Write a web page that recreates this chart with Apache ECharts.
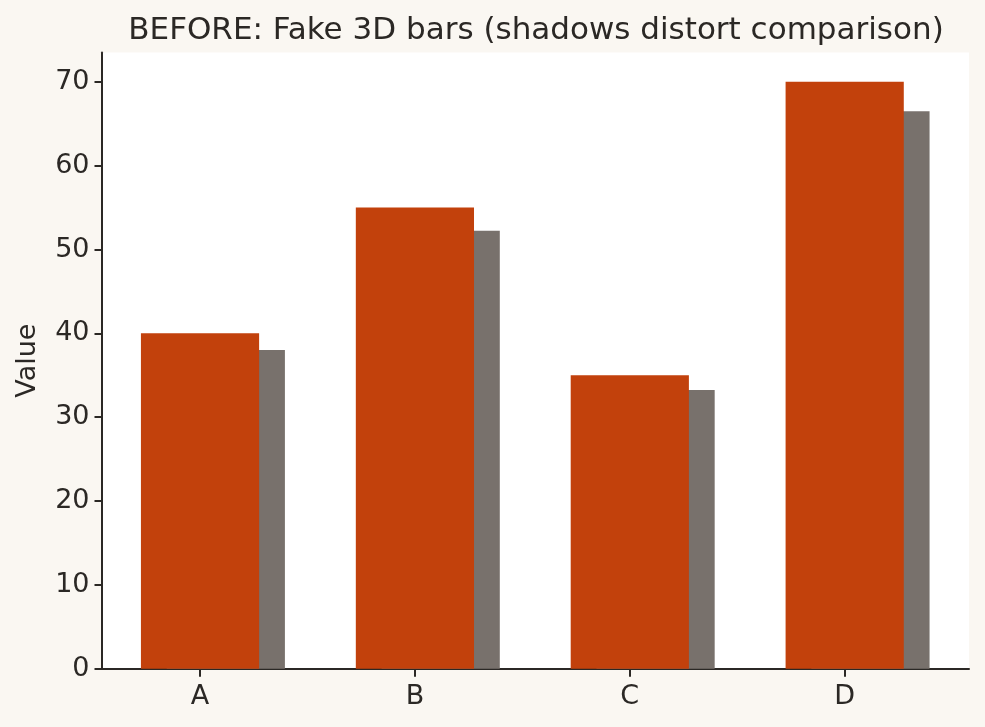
<!DOCTYPE html>
<html>
<head>
<meta charset="utf-8">
<script src="https://cdn.jsdelivr.net/npm/echarts@6/dist/echarts.min.js"></script>
<style>
html,body{margin:0;padding:0;background:#FAF7F2;}
#chart{width:985px;height:727px;}
</style>
</head>
<body>
<div id="chart"></div>
<script>
const categories = ['A', 'B', 'C', 'D'];
const values = [40, 55, 35, 70];
const shadowValues = [38, 52.25, 33.25, 66.5];
const yTicks = [0, 10, 20, 30, 40, 50, 60, 70];

const BAR_HALF = 0.275;
const SHADOW_OFF = 0.12;
const TEXT = '#2B2825';
const FONT = 'DejaVu Sans';

function barRenderer(color, offset) {
  return function (params, api) {
    const x = api.value(0), v = api.value(1);
    const p1 = api.coord([x + offset - BAR_HALF, v]);
    const p2 = api.coord([x + offset + BAR_HALF, 0]);
    return {
      type: 'rect',
      shape: { x: p1[0], y: p1[1], width: p2[0] - p1[0], height: p2[1] - p1[1] },
      style: { fill: color }
    };
  };
}

const chart = echarts.init(document.getElementById('chart'));
chart.setOption({
  backgroundColor: '#FAF7F2',
  animation: false,
  title: {
    text: 'BEFORE: Fake 3D bars (shadows distort comparison)',
    left: 531,
    textAlign: 'center',
    top: 10,
    textStyle: { fontFamily: FONT, fontSize: 31, fontWeight: 'normal', color: TEXT }
  },
  grid: {
    left: 101.5, right: 16, top: 52.5, bottom: 58.3,
    show: true, backgroundColor: '#FFFFFF', borderWidth: 0
  },
  xAxis: {
    type: 'value',
    min: -0.4585,
    max: 3.5785,
    splitLine: { show: false },
    axisLine: { onZero: false, lineStyle: { color: TEXT, width: 2 } },
    axisTick: { customValues: [0, 1, 2, 3], length: 8, lineStyle: { color: TEXT, width: 2 } },
    axisLabel: {
      customValues: [0, 1, 2, 3],
      formatter: v => categories[Math.round(v)],
      fontFamily: FONT, fontSize: 27, color: TEXT, margin: 15
    }
  },
  yAxis: {
    type: 'value',
    min: 0,
    max: 73.5,
    name: 'Value',
    nameLocation: 'middle',
    nameRotate: 90,
    nameGap: 60,
    nameTextStyle: { fontFamily: FONT, fontSize: 27, color: TEXT },
    splitLine: { show: false },
    axisLine: { show: true, onZero: false, lineStyle: { color: TEXT, width: 2 } },
    axisTick: { show: true, customValues: yTicks, length: 7, lineStyle: { color: TEXT, width: 2 } },
    axisLabel: {
      customValues: yTicks,
      fontFamily: FONT, fontSize: 27, color: TEXT, margin: 12
    }
  },
  series: [
    {
      type: 'custom',
      name: 'shadow',
      renderItem: barRenderer('#78716C', SHADOW_OFF),
      data: categories.map((c, i) => [i, shadowValues[i]]),
      z: 1
    },
    {
      type: 'custom',
      name: 'value',
      renderItem: barRenderer('#C2410C', 0),
      data: categories.map((c, i) => [i, values[i]]),
      z: 2
    }
  ]
});
</script>
</body>
</html>
